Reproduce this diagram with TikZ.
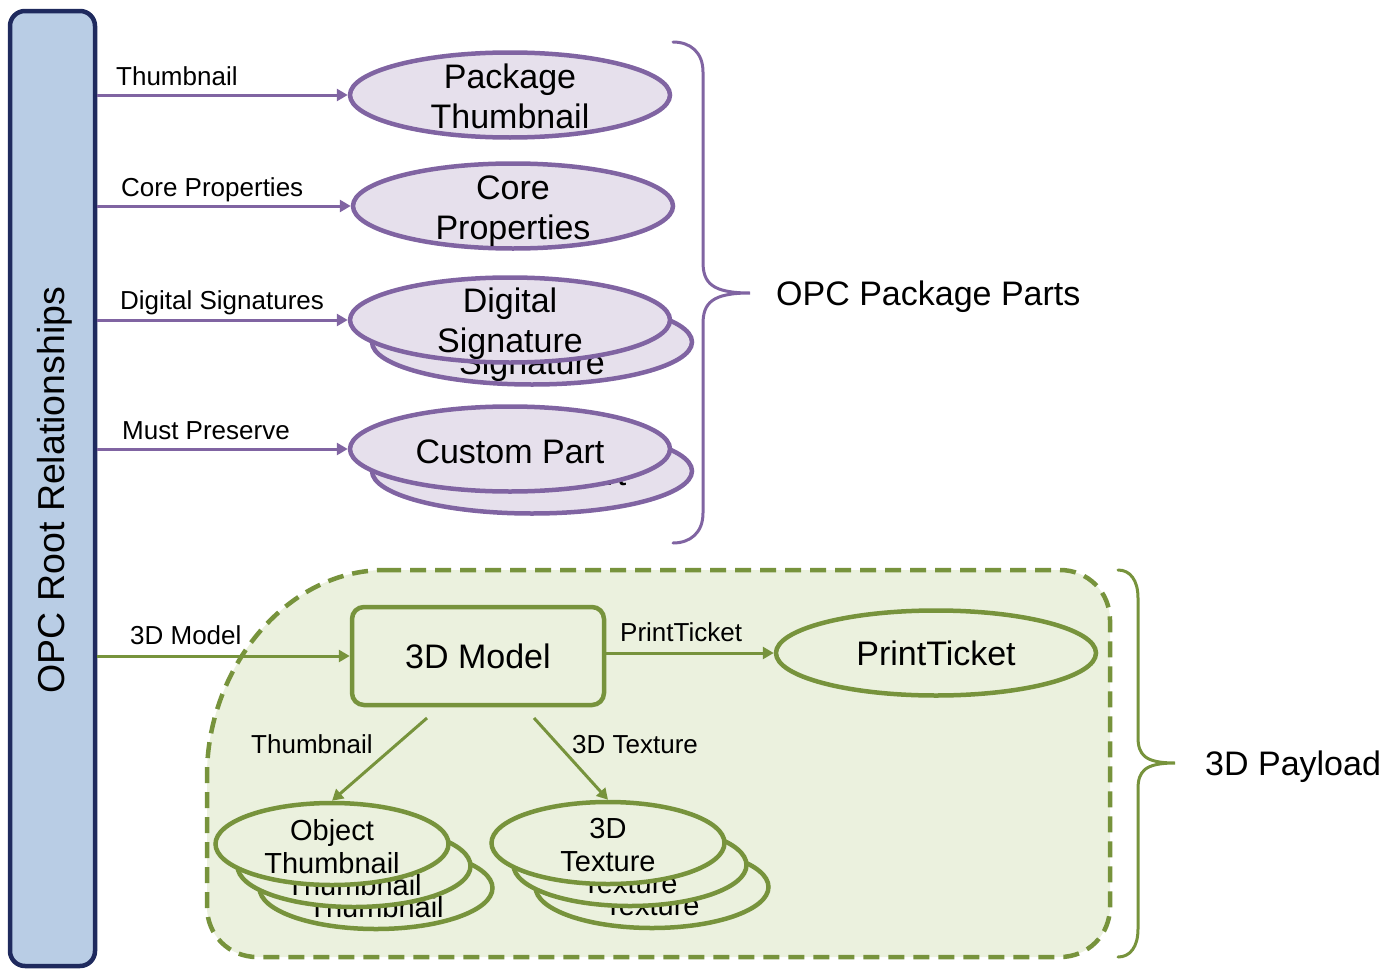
\documentclass[tikz,border=0pt]{standalone}
\usepackage{fontspec}
\setmainfont{Liberation Sans}
\usetikzlibrary{shapes.geometric,arrows.meta}
\definecolor{pur}{HTML}{8064A2}
\definecolor{purfill}{HTML}{E6E0EC}
\definecolor{grn}{HTML}{77933C}
\definecolor{grnfill}{HTML}{EBF1DE}
\definecolor{barfill}{HTML}{B9CDE5}
\definecolor{barline}{HTML}{1F2A5E}
\newcommand\txtdown[1]{\rule{0pt}{#1}}
\begin{document}
\begin{tikzpicture}[x=1pt,y=-1pt,
  lbl/.style={font=\fontsize{26}{30}\selectfont, inner sep=0pt, anchor=base west},
  bigtxt/.style={font=\fontsize{34}{40}\selectfont, align=center},
  midtxt/.style={font=\fontsize{29}{33}\selectfont, align=center},
  pell/.style={ellipse, draw=pur, fill=purfill, line width=4.5pt, minimum width=320pt, minimum height=85pt, inner sep=-14pt, bigtxt},
  gell/.style={ellipse, draw=grn, fill=grnfill, line width=4.5pt, minimum width=320pt, minimum height=85pt, inner sep=-14pt, bigtxt},
  sell/.style={ellipse, draw=grn, fill=grnfill, line width=4.5pt, minimum width=233pt, minimum height=82pt, inner sep=-14pt, midtxt},
  parr/.style={draw=pur, line width=3pt, -{Triangle[length=11pt,width=12pt]}},
  garr/.style={draw=grn, line width=3pt, -{Triangle[length=11pt,width=12pt]}},
  brace/.style={line width=3pt, line cap=round}
]
\useasboundingbox (0,0) rectangle (1398,969);

% 3D payload region
\draw[draw=grn, fill=grnfill, line width=4.5pt, dash pattern=on 16pt off 9pt]
  (385,570) -- (1060,570) .. controls (1088,570) and (1110,592) .. (1110,620)
  -- (1110,907) .. controls (1110,935) and (1088,957) .. (1060,957)
  -- (257,957) .. controls (229,957) and (207,935) .. (207,907)
  -- (207,775) .. controls (207,670) and (285,570) .. (385,570) -- cycle;

% left bar
\node[draw=barline, fill=barfill, line width=4.5pt, rounded corners=15pt,
  minimum width=85pt, minimum height=955pt, inner sep=0pt] (bar) at (52.5,488.5) {};
\node[rotate=90, font=\fontsize{37.5}{40}\selectfont] (barlabel) at (55,490) {OPC Root Relationships};

% purple parts
\node[pell] (pthumb) at (510,95) {\txtdown{27pt}Package\\Thumbnail};
\node[pell] (core) at (513,206) {\txtdown{35pt}Core\\Properties};
\node[pell] (sigB) at (532,342) {\txtdown{32pt}Digital\\Signature};
\node[pell] (sig) at (510,320) {\txtdown{32pt}Digital\\Signature};
\node[pell] (custB) at (532,471) {\txtdown{29pt}Custom Part};
\node[pell] (cust) at (510,449) {\txtdown{29pt}Custom Part};

\draw[parr] (bar.east |- pthumb) -- (pthumb.west);
\draw[parr] (bar.east |- core) -- (core.west);
\draw[parr] (bar.east |- sig) -- (sig.west);
\draw[parr] (bar.east |- cust) -- (cust.west);

\node[lbl] (l1) at (116,85) {Thumbnail};
\node[lbl] (l2) at (121,196) {Core Properties};
\node[lbl] (l3) at (120,309) {Digital Signatures};
\node[lbl] (l4) at (122,439) {Must Preserve};

% purple brace
\draw[brace, draw=pur]
  (673,42) .. controls (690,42) and (703,52) .. (703,72) -- (703,262)
  .. controls (703,283) and (712,293) .. (750,293)
  .. controls (712,293) and (703,303) .. (703,324) -- (703,513)
  .. controls (703,533) and (690,543) .. (673,543);
\node[bigtxt, anchor=base west, inner sep=0pt] (opcparts) at (776,305) {OPC Package Parts};

% green brace
\draw[brace, draw=grn]
  (1118,570) .. controls (1130,570) and (1138,580) .. (1138,598) -- (1138,737)
  .. controls (1138,755) and (1145,763) .. (1175,763)
  .. controls (1145,763) and (1138,771) .. (1138,789) -- (1138,929)
  .. controls (1138,947) and (1130,957) .. (1118,957);
\node[bigtxt, anchor=base west, inner sep=0pt] (payload) at (1205,775) {3D Payload};

% 3D model
\node[draw=grn, fill=grnfill, line width=4.5pt, rounded corners=12pt,
  minimum width=252pt, minimum height=98pt, inner sep=0pt, bigtxt] (model) at (478,656) {3D Model};
\draw[garr] (bar.east |- model) -- (model.west);
\node[lbl] (l5) at (130,644) {3D Model};

\node[gell] (pt) at (936,653) {PrintTicket};
\draw[garr] (model.east |- pt) -- (pt.west);
\node[lbl] (l6) at (620,641) {PrintTicket};

% object thumbnail stack
\node[sell] (othC) at (376,888) {\txtdown{26pt}Object\\Thumbnail};
\node[sell] (othB) at (354,866) {\txtdown{26pt}Object\\Thumbnail};
\node[sell] (oth) at (332,844) {\txtdown{26pt}Object\\Thumbnail};
% texture stack
\node[sell] (texC) at (652,887) {\txtdown{24pt}3D\\Texture};
\node[sell] (texB) at (630,865) {\txtdown{24pt}3D\\Texture};
\node[sell] (tex) at (608,843) {\txtdown{24pt}3D\\Texture};

\coordinate (ts) at (427,718);
\coordinate (xs) at (534,718);
\draw[garr] (ts) -- (oth.north);
\draw[garr] (xs) -- (tex.north);
\node[lbl] (l7) at (251,753) {Thumbnail};
\node[lbl] (l8) at (572,753) {3D Texture};
\end{tikzpicture}
\end{document}
